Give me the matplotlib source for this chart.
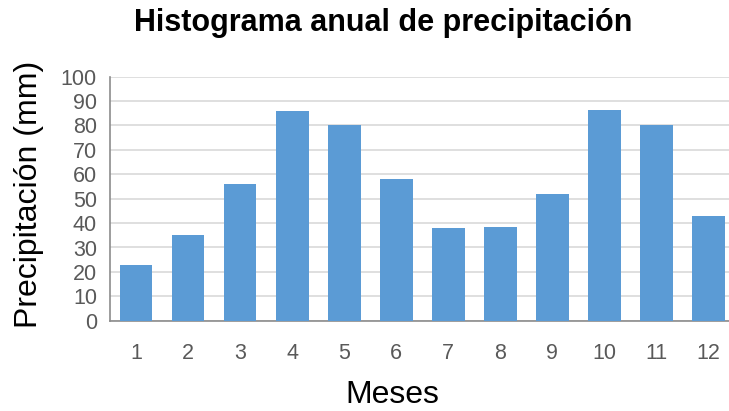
import matplotlib.pyplot as plt

meses = [1, 2, 3, 4, 5, 6, 7, 8, 9, 10, 11, 12]
precipitacion = [23, 35, 56, 86, 80, 58, 38, 38.5, 52, 86.4, 80.4, 43]
ticks_y = [0, 10, 20, 30, 40, 50, 60, 70, 80, 90, 100]

plt.rcParams['font.family'] = ['Liberation Sans', 'DejaVu Sans']

fig = plt.figure(figsize=(7.29, 4.11), dpi=100)
ax = fig.add_axes([110 / 729, 90.3 / 411, 624.5 / 729, 244 / 411])

ax.bar(meses, precipitacion, width=0.63, color='#5B9BD5', zorder=3)

ax.set_xlim(0.5, 12.5)
ax.set_ylim(0, 100)
ax.set_xticks(meses)
ax.set_yticks(ticks_y)
ax.tick_params(axis='both', length=0, labelsize=15.5, colors='#595959')
ax.tick_params(axis='x', pad=16)
ax.tick_params(axis='y', pad=9.4)

ax.grid(axis='y', color='#d9d9d9', linewidth=1.2, zorder=0)
for s in ['top', 'right']:
    ax.spines[s].set_visible(False)
ax.spines['left'].set_color('#8c8c8c')
ax.spines['bottom'].set_color('#8c8c8c')
ax.spines['left'].set_linewidth(1.2)
ax.spines['bottom'].set_linewidth(1.2)

ax.set_ylabel('Precipitación (mm)', fontsize=23, va='center')
ax.yaxis.set_label_coords(-0.13, 0.519)
ax.set_xlabel('Meses', fontsize=23, va='center')
ax.xaxis.set_label_coords(0.4516, -0.304)
fig.text(383 / 729, 1 - 23 / 411, 'Histograma anual de precipitación',
         fontsize=22, fontweight='bold', ha='center', va='center')

fig.savefig('out.png', dpi=100)
